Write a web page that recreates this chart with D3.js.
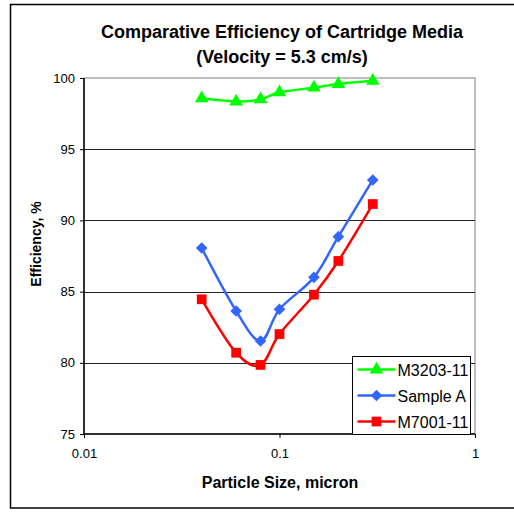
<!DOCTYPE html>
<html>
<head>
<meta charset="utf-8">
<script src="https://cdn.jsdelivr.net/npm/d3@7"></script>
<style>
  body { margin: 0; background: #fff; }
  text { font-family: "Liberation Sans", Arial, sans-serif; }
</style>
</head>
<body>
<div id="container"></div>
<script>
var w = 514;
var h = 512;

// data
var sizes = [0.04, 0.06, 0.08, 0.1, 0.15, 0.2, 0.3];
var m3203 = [98.57, 98.35, 98.5, 99.0, 99.32, 99.58, 99.8];
var sampleA = [88.06, 83.64, 81.53, 83.76, 86.0, 88.86, 92.84];
var m7001 = [84.46, 80.71, 79.85, 82.02, 84.78, 87.15, 91.15];
var seriesNames = ["M3203-11", "Sample A", "M7001-11"];
var yTicks = [75, 80, 85, 90, 95, 100];
var xTicks = [0.01, 0.1, 1];

var colors = ["#00ff00", "#3366ff", "#ff0000"];
var shapes = [d3.symbolTriangle, d3.symbolSquare, d3.symbolSquare];
var shapeSizes = [80, 68, 95];
var shapeRot = [0, 45, 0];

var svg = d3.select("div#container")
    .append("svg")
    .attr("width", w)
    .attr("height", h);

// outer frame
svg.append("rect")
    .attr("x", 10.5).attr("y", 4.5)
    .attr("width", 520).attr("height", 503.5)
    .attr("fill", "#fff")
    .attr("stroke", "#000")
    .attr("stroke-width", 1.5);

var x = d3.scaleLog().domain([0.01, 1]).range([84, 475]);
var y = d3.scaleLinear().domain([75, 100]).range([434, 78]);

// plot area frame (gray top/right)
svg.append("rect")
    .attr("x", x(0.01)).attr("y", y(100))
    .attr("width", x(1) - x(0.01)).attr("height", y(75) - y(100))
    .attr("fill", "#fff")
    .attr("stroke", "#808080")
    .attr("stroke-width", 1);

// gridlines
svg.append("g")
  .selectAll("line")
  .data(yTicks.filter(d => d > 75 && d < 100))
  .enter().append("line")
    .attr("x1", x(0.01)).attr("x2", x(1))
    .attr("y1", d => Math.round(y(d)) + 0.5)
    .attr("y2", d => Math.round(y(d)) + 0.5)
    .attr("stroke", "#222")
    .attr("stroke-width", 1);

// axes
var yAxis = d3.axisLeft(y).tickValues(yTicks).tickSize(4).tickPadding(5).tickFormat(d3.format("d"));
var xAxis = d3.axisBottom(x).tickValues(xTicks).tickSize(4).tickPadding(11).tickFormat(d => d);

var gy = svg.append("g").attr("transform", "translate(" + x(0.01) + ",0)").call(yAxis);
var gx = svg.append("g").attr("transform", "translate(0," + y(75) + ")").call(xAxis);
[gy, gx].forEach(g => {
  g.select(".domain").attr("stroke", "#000").attr("stroke-width", 1.5);
  g.selectAll(".tick line").attr("stroke", "#000");
  g.selectAll(".tick text").attr("font-size", 13).attr("fill", "#000")
    .style("font-family", "'Liberation Sans', Arial, sans-serif");
});
gx.select(".domain").attr("d", "M" + x(0.01) + ",0H" + x(1));
gy.select(".domain").attr("d", "M0," + y(100) + "V" + y(75));

// series
var allSeries = [m3203, sampleA, m7001];
var line = d3.line()
    .x(d => x(d[0]))
    .y(d => y(d[1]))
    .curve(d3.curveCatmullRom.alpha(0));

allSeries.forEach((vals, i) => {
  var pts = sizes.map((s, j) => [s, vals[j]]);
  var g = svg.append("g");
  g.append("path")
    .attr("d", line(pts))
    .attr("fill", "none")
    .attr("stroke", colors[i])
    .attr("stroke-width", 2.5);
  g.selectAll("path.m")
    .data(pts)
    .enter().append("path")
    .attr("class", "m")
    .attr("transform", d => "translate(" + x(d[0]) + "," + y(d[1]) + ") rotate(" + shapeRot[i] + ")")
    .attr("d", d3.symbol().type(shapes[i]).size(shapeSizes[i]))
    .attr("fill", colors[i]);
});

// legend
var lg = svg.append("g").attr("transform", "translate(352.5,356.5)");
lg.append("rect")
    .attr("width", 118).attr("height", 78)
    .attr("fill", "#fff")
    .attr("stroke", "#000")
    .attr("stroke-width", 1);
seriesNames.forEach((n, i) => {
  var yy = 13 + i * 26;
  lg.append("line")
    .attr("x1", 5).attr("x2", 43)
    .attr("y1", yy).attr("y2", yy)
    .attr("stroke", colors[i]).attr("stroke-width", 2.5);
  lg.append("path")
    .attr("transform", "translate(24," + yy + ") rotate(" + shapeRot[i] + ")")
    .attr("d", d3.symbol().type(shapes[i]).size(shapeSizes[i]))
    .attr("fill", colors[i]);
  lg.append("text")
    .attr("x", 45).attr("y", yy + 6)
    .attr("font-size", 16)
    .text(n);
});

// titles
svg.append("text")
    .attr("x", 282).attr("y", 38)
    .attr("text-anchor", "middle")
    .attr("font-size", 18).attr("font-weight", "bold")
    .text("Comparative Efficiency of Cartridge Media");
svg.append("text")
    .attr("x", 282).attr("y", 63)
    .attr("text-anchor", "middle")
    .attr("font-size", 18).attr("font-weight", "bold")
    .text("(Velocity = 5.3 cm/s)");

svg.append("text")
    .attr("x", 280).attr("y", 488)
    .attr("text-anchor", "middle")
    .attr("font-size", 16).attr("font-weight", "bold")
    .text("Particle Size, micron");

svg.append("text")
    .attr("transform", "translate(41,244) rotate(-90)")
    .attr("text-anchor", "middle")
    .attr("font-size", 14).attr("font-weight", "bold")
    .text("Efficiency, %");
</script>
</body>
</html>
